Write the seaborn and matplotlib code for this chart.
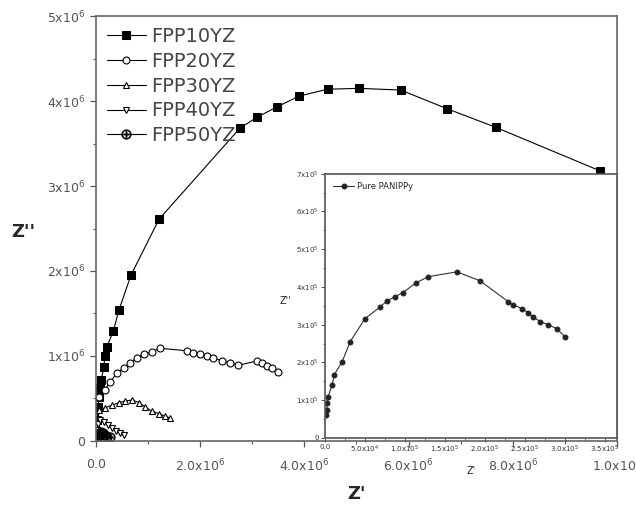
import seaborn as sns
import matplotlib.pyplot as plt
from matplotlib.ticker import MultipleLocator

# Nyquist data, main plot values in units of 1e6 ohm
fpp10_x = [0.01, 0.02, 0.04, 0.06, 0.08, 0.10, 0.15, 0.17, 0.21, 0.33, 0.44, 0.67, 1.21,
           2.76, 3.09, 3.47, 3.90, 4.45, 5.05, 5.85, 6.74, 7.68, 9.67]
fpp10_y = [0.10, 0.25, 0.40, 0.52, 0.62, 0.72, 0.87, 1.00, 1.11, 1.29, 1.54, 1.95, 2.61,
           3.68, 3.81, 3.93, 4.06, 4.14, 4.15, 4.13, 3.91, 3.69, 3.18]

fpp20_x = [0.06, 0.17, 0.27, 0.40, 0.54, 0.65, 0.79, 0.92, 1.07, 1.23,
           1.75, 1.86, 2.00, 2.13, 2.25, 2.42, 2.57, 2.73, 3.09, 3.19, 3.28, 3.38, 3.49]
fpp20_y = [0.52, 0.60, 0.69, 0.80, 0.86, 0.92, 0.98, 1.02, 1.05, 1.09,
           1.06, 1.04, 1.02, 1.00, 0.98, 0.94, 0.92, 0.89, 0.94, 0.92, 0.88, 0.86, 0.81]

fpp30_x = [0.00, 0.02, 0.06, 0.17, 0.31, 0.44, 0.56, 0.69, 0.83, 0.94, 1.07, 1.21, 1.32, 1.42]
fpp30_y = [0.07, 0.19, 0.36, 0.39, 0.42, 0.45, 0.47, 0.48, 0.45, 0.40, 0.35, 0.32, 0.29, 0.27]

fpp40_x = [0.01, 0.02, 0.04, 0.08, 0.15, 0.23, 0.31, 0.38, 0.46, 0.54]
fpp40_y = [0.04, 0.13, 0.20, 0.24, 0.22, 0.19, 0.15, 0.12, 0.09, 0.07]

fpp50_x = [0.01, 0.03, 0.06, 0.10, 0.14, 0.18, 0.22, 0.26]
fpp50_y = [0.02, 0.06, 0.09, 0.10, 0.09, 0.07, 0.05, 0.04]

# inset: pure PANI/PPy
pure_x = [0.03, 0.05, 0.05, 0.08, 0.18, 0.23, 0.43, 0.63, 1.00, 1.38, 1.55, 1.75, 1.95,
          2.28, 2.58, 3.30, 3.88, 4.58, 4.70, 4.93, 5.08, 5.20, 5.38, 5.58, 5.80, 6.00]
pure_y = [0.61, 0.74, 0.93, 1.09, 1.41, 1.67, 2.02, 2.55, 3.16, 3.47, 3.63, 3.74, 3.85,
          4.11, 4.27, 4.40, 4.16, 3.61, 3.53, 3.42, 3.32, 3.21, 3.08, 3.00, 2.89, 2.68]

xticks_main = [0, 2, 4, 6, 8, 10]
xlabels_main = ["0.0", r"$2.0\mathrm{x}10^6$", r"$4.0\mathrm{x}10^6$",
                r"$6.0\mathrm{x}10^6$", r"$8.0\mathrm{x}10^6$", r"$1.0\mathrm{x}10^7$"]
yticks_main = [0, 1, 2, 3, 4, 5]
ylabels_main = ["0", r"$1\mathrm{x}10^6$", r"$2\mathrm{x}10^6$", r"$3\mathrm{x}10^6$",
                r"$4\mathrm{x}10^6$", r"$5\mathrm{x}10^6$"]
xticks_in = [0, 1, 2, 3, 4, 5, 6, 7]
xlabels_in = ["0.0", r"$5.0\mathrm{x}10^4$", r"$1.0\mathrm{x}10^5$", r"$1.5\mathrm{x}10^5$",
              r"$2.0\mathrm{x}10^5$", r"$2.5\mathrm{x}10^5$", r"$3.0\mathrm{x}10^5$",
              r"$3.5\mathrm{x}10^5$"]
yticks_in = [0, 1, 2, 3, 4, 5, 6, 7]
ylabels_in = ["0"] + [r"$%d\mathrm{x}10^5$" % i for i in range(1, 8)]

sns.set_theme(style="ticks")
plt.rcParams['font.family'] = ['DejaVu Sans']
plt.rcParams['mathtext.default'] = 'regular'

fig = plt.figure(figsize=(6.36, 5.05), dpi=100)
ax = fig.add_axes([0.151, 0.127, 0.819, 0.841])

common = dict(sort=False, estimator=None, color="black", linewidth=0.8, ax=ax)
sns.lineplot(x=fpp10_x, y=fpp10_y, marker="s", markersize=5.5, markerfacecolor="black",
             markeredgecolor="black", label="FPP10YZ", **common)
sns.lineplot(x=fpp20_x, y=fpp20_y, marker="o", markersize=5, markerfacecolor="white",
             markeredgecolor="black", markeredgewidth=0.8, label="FPP20YZ", **common)
sns.lineplot(x=fpp30_x, y=fpp30_y, marker="^", markersize=5, markerfacecolor="white",
             markeredgecolor="black", markeredgewidth=0.8, label="FPP30YZ", **common)
sns.lineplot(x=fpp40_x, y=fpp40_y, marker="v", markersize=5, markerfacecolor="white",
             markeredgecolor="black", markeredgewidth=0.8, label="FPP40YZ", **common)
sns.lineplot(x=fpp50_x, y=fpp50_y, marker=r"$\oplus$", markersize=7, markerfacecolor="black",
             markeredgecolor="black", markeredgewidth=0.3, label="FPP50YZ", **common)

ax.set_xlim(0, 10)
ax.set_ylim(0, 5)
ax.set_xticks(xticks_main)
ax.set_xticklabels(xlabels_main, fontsize=9, color="#555555")
ax.set_yticks(yticks_main)
ax.set_yticklabels(ylabels_main, fontsize=9, color="#555555")
ax.xaxis.set_minor_locator(MultipleLocator(1))
ax.yaxis.set_minor_locator(MultipleLocator(0.5))
ax.tick_params(which="major", direction="out", length=4, width=0.9, color="#555555")
ax.tick_params(axis="x", which="major", pad=8)
ax.tick_params(which="minor", direction="out", length=2.5, width=0.8, color="#555555")
for s in ax.spines.values():
    s.set_color("#666666")
    s.set_linewidth(1.2)
ax.set_xlabel("Z'", fontsize=13, fontweight="bold", labelpad=8)
ax.set_ylabel("Z''", fontsize=13, fontweight="bold", rotation=0, labelpad=22)
ax.yaxis.set_label_coords(-0.14, 0.47)

leg = ax.legend(loc="upper left", frameon=False, fontsize=14, handlelength=2.0,
                handletextpad=0.3, labelspacing=0.3, borderaxespad=0.15, numpoints=1)
for t in leg.get_texts():
    t.set_color("#444444")

# inset
axin = fig.add_axes([0.511, 0.133, 0.459, 0.523])
axin.set_facecolor("white")
sns.lineplot(x=pure_x, y=pure_y, sort=False, estimator=None, color="#333333", linewidth=0.8,
             marker="o", markersize=3.5, markerfacecolor="#222222", markeredgecolor="#222222",
             label="Pure PANIPPy", ax=axin)
axin.set_xlim(0, 7.3)
axin.set_ylim(0, 7)
axin.set_xticks(xticks_in)
axin.set_xticklabels(xlabels_in, fontsize=5, color="#333333")
axin.set_yticks(yticks_in)
axin.set_yticklabels(ylabels_in, fontsize=5, color="#333333")
axin.xaxis.set_minor_locator(MultipleLocator(0.5))
axin.yaxis.set_minor_locator(MultipleLocator(0.5))
axin.tick_params(which="major", direction="out", length=3, width=0.7, pad=1.5, color="#555555")
axin.tick_params(which="minor", direction="out", length=1.5, width=0.6, color="#555555")
for s in axin.spines.values():
    s.set_color("#555555")
    s.set_linewidth(1.2)
axin.set_xlabel("Z'", fontsize=7, labelpad=8)
axin.set_ylabel("Z''", fontsize=7, rotation=0, labelpad=8)
axin.legend(loc="upper left", frameon=False, fontsize=6, handlelength=2.5,
            handletextpad=0.4, borderaxespad=0.6, numpoints=1)

fig.savefig("out.png", dpi=100)
